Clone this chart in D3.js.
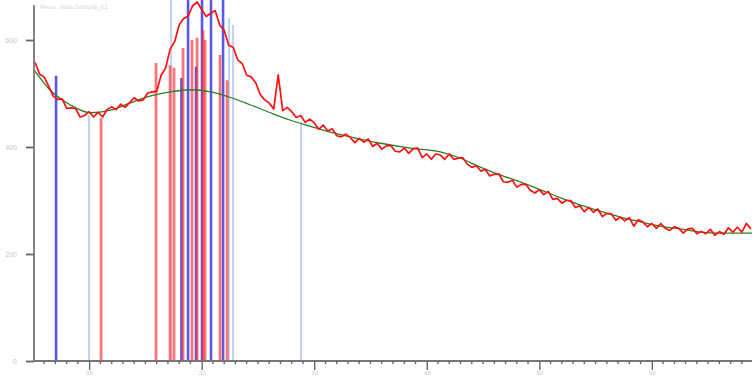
<!DOCTYPE html>
<html>
<head>
<meta charset="utf-8">
<script src="https://cdn.jsdelivr.net/npm/d3@7"></script>
<style>
  body { margin: 0; background: #fff; }
  svg { display: block; font-family: "DejaVu Sans", sans-serif; }
</style>
</head>
<body>
<svg id="chart" width="752" height="378"></svg>
<script>
// measured scan: start angle, step, counts
const scanStart = 5.2
const scanStep = 0.4
const measured = [
  558,536,531,514,495,489,490,472,473,472,456,459,466,456,465,456,470,475,470,480,
  474,483,492,486,488,501,503,504,534,548,583,597,628,640,645,664,671,657,644,650,
  655,628,618,590,586,563,556,534,531,520,498,488,482,471,535,468,474,466,455,459,
  446,452,445,433,441,430,434,421,419,424,418,408,416,409,415,401,407,396,402,403,
  392,391,398,388,397,398,380,387,377,387,385,377,387,377,379,380,368,362,365,355,
  358,346,349,350,335,334,338,325,330,330,319,314,320,311,317,302,304,295,300,300,
  287,290,279,287,278,284,270,276,275,263,269,262,268,252,264,260,251,257,248,257,
  248,244,251,248,239,247,248,238,242,238,246,235,242,237,249,241,250,241,257,247
]

// fitted background
const bgAngle = [5.1,6.5,8.3,10.1,11.9,13.6,15.4,17.2,19.0,20.8,22.5,24.3,26.1,27.9,29.6,31.4,33.2,35.9,
  38.5,41.2,43.0,44.7,46.5,48.3,50.1,51.9,53.6,55.4,57.2,59.0,60.7,62.5,64.3,66.1,67.9,68.9]
const bgCounts = [544,507,479,464,469,482,495,503,507,503,493,479,464,450,439,428,419,407,
  398,391,379,363,348,335,320,305,292,280,269,260,252,247,241,239,239,239]

// reference peak markers
const redPos = [11.06,15.94,17.19,17.54,18.34,19.14,19.59,20.12,20.3,21.63,22.26]
const redInt = [454,557,553,548,585,600,604,618,600,572,525]
const bluePos = [7.06,18.2,18.79,19.5,20.03,20.83,21.9]
const blueInt = [533,529,700,550,700,700,700]
const palePos = [9.99,17.28,22.43,22.79,28.83]
const paleInt = [460,700,641,628,447]

const yTicks = [0,200,400,600]
const xTicks = [10,20,30,40,50,60]

const svg = d3.select("#chart")
const mLeft = 34, mTop = 5, mRight = 752, mBottom = 361

const x = d3.scaleLinear().domain([5.1, 68.9]).range([mLeft, mRight])
const y = d3.scaleLinear().domain([0, 600]).range([mBottom, 40])

svg.append("defs").append("clipPath").attr("id", "plot")
  .append("rect").attr("x", mLeft).attr("y", 0).attr("width", mRight - mLeft).attr("height", mBottom)

const plot = svg.append("g").attr("clip-path", "url(#plot)")

function sticks(pos, ints, color, w, op) {
  plot.append("g").selectAll("line").data(pos).enter().append("line")
    .attr("x1", d => x(d)).attr("x2", d => x(d))
    .attr("y1", y(0)).attr("y2", (d, i) => y(ints[i]))
    .attr("stroke", color).attr("stroke-width", w).attr("stroke-opacity", op)
}
sticks(palePos, paleInt, "#b9cdec", 2, 0.9)
sticks(bluePos, blueInt, "#2f2fe0", 2.6, 0.8)
sticks(redPos, redInt, "#ff2a2a", 2.8, 0.65)

plot.append("path")
  .datum(bgAngle.map((a, i) => [a, bgCounts[i]]))
  .attr("fill", "none").attr("stroke", "#2a7f2a").attr("stroke-width", 1.3)
  .attr("d", d3.line().x(d => x(d[0])).y(d => y(d[1])).curve(d3.curveMonotoneX))

plot.append("path")
  .datum(measured)
  .attr("fill", "none").attr("stroke", "#ff1010").attr("stroke-width", 1.7)
  .attr("stroke-linejoin", "round")
  .attr("d", d3.line().x((d, i) => x(scanStart + i * scanStep)).y(d => y(d)))

// axes
const yAxis = svg.append("g").attr("transform", `translate(${mLeft},0)`)
  .call(d3.axisLeft(y).tickValues(yTicks).tickSize(8).tickPadding(9))
yAxis.select(".domain").remove()
yAxis.append("line").attr("x1", 0).attr("x2", 0).attr("y1", mTop).attr("y2", mBottom)
  .attr("stroke", "#777").attr("stroke-width", 1.8)
yAxis.selectAll(".tick line").attr("stroke", "#666").attr("stroke-width", 1.8)
yAxis.selectAll(".tick text").attr("fill", "#c8c8c8").style("font-size", "7px")

const minor = d3.range(6, 69)
const xAxisG = svg.append("g").attr("transform", `translate(0,${mBottom})`)
xAxisG.append("line").attr("x1", mLeft).attr("x2", mRight).attr("y1", 0).attr("y2", 0)
  .attr("stroke", "#777").attr("stroke-width", 1.8)
xAxisG.selectAll(".minor").data(minor.filter(v => v % 10 !== 0)).enter().append("line")
  .attr("x1", d => x(d)).attr("x2", d => x(d)).attr("y1", 0).attr("y2", 3)
  .attr("stroke", "#666").attr("stroke-width", 1.4)
const maj = d3.axisBottom(x).tickValues(xTicks).tickSize(9).tickPadding(1)
const xa = svg.append("g").attr("transform", `translate(0,${mBottom})`).call(maj)
xa.select(".domain").remove()
xa.selectAll(".tick line").attr("stroke", "#666").attr("stroke-width", 1.4)
xa.selectAll(".tick text").attr("fill", "#c8c8c8").style("font-size", "6px")

// faint caption
svg.append("text").attr("x", 40).attr("y", 9).attr("fill", "#d6d6d6")
  .style("font-size", "6px").text("Meas. data:Sample_01")
</script>
</body>
</html>
